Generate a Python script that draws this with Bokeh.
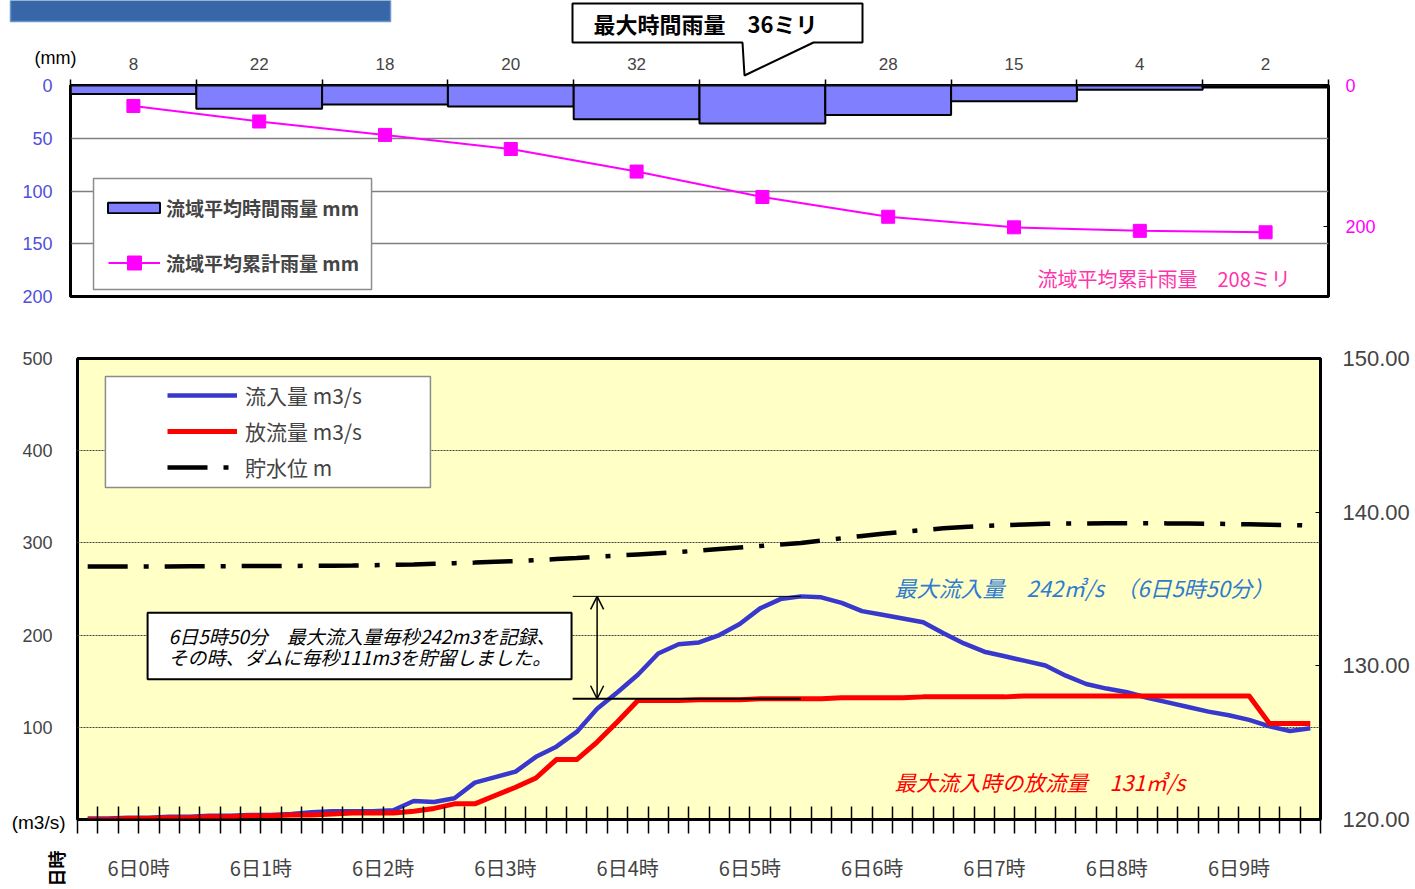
from math import pi
from bokeh.plotting import figure
from bokeh.models import (Range1d, LinearAxis, FixedTicker, Grid, Legend, LegendItem,
                          Label, ColumnDataSource, Arrow, OpenHead,
                          PolyAnnotation, BoxAnnotation, NumeralTickFormatter)
from bokeh.embed import file_html
from bokeh.resources import INLINE

JP = "Noto Sans CJK JP"
NUM = "Liberation Sans"

# ---------------- data ----------------
rain_hours = [0, 1, 2, 3, 4, 5, 6, 7, 8, 9]
rain_hourly = [8, 22, 18, 20, 32, 36, 28, 15, 4, 2]
rain_cumulative = [29, 51, 70, 90, 122, 158, 186, 201, 206, 208]

minutes = list(range(0, 601, 10))
inflow = [1, 1, 2, 2, 3, 3, 4, 4, 5, 5,
          6, 8, 9, 9, 9, 10, 20, 19, 23, 40,
          46, 52, 68, 79, 95, 120, 138, 157, 180, 190,
          192, 200, 212, 229, 239, 242, 241, 235, 226, 222,
          218, 214, 202, 191, 182, 177, 172, 167, 156, 147,
          142, 138, 132, 127, 122, 117, 113, 108, 101, 96,
          99]
outflow = [0, 0, 1, 1, 2, 2, 3, 3, 4, 4,
           5, 5, 6, 7, 7, 7, 9, 12, 17, 17,
           26, 35, 45, 65, 65, 84, 106, 129, 129, 129,
           130, 130, 130, 131, 131, 131, 131, 132, 132, 132,
           132, 133, 133, 133, 133, 133, 134, 134, 134, 134,
           134, 134, 134, 134, 134, 134, 134, 134, 104, 104,
           104]
level = [136.46, 136.46, 136.46, 136.47, 136.47, 136.48, 136.48, 136.49, 136.49, 136.50,
         136.50, 136.51, 136.52, 136.53, 136.55, 136.57, 136.60, 136.64, 136.68, 136.72,
         136.77, 136.82, 136.88, 136.95, 137.02, 137.10, 137.17, 137.25, 137.33, 137.41,
         137.50, 137.60, 137.70, 137.80, 137.90, 138.00, 138.15, 138.30, 138.45, 138.60,
         138.72, 138.84, 138.95, 139.03, 139.10, 139.15, 139.20, 139.24, 139.26, 139.27,
         139.28, 139.28, 139.28, 139.27, 139.26, 139.25, 139.23, 139.21, 139.18, 139.16,
         139.14]
hour_labels = ["6日0時", "6日1時", "6日2時", "6日3時", "6日4時",
               "6日5時", "6日6時", "6日7時", "6日8時", "6日9時"]

W = 1413
TOP_H = 312
BOT_H = 576


def place(top_px):
    return {"position": "absolute", "left": "0px", "top": "%dpx" % top_px}


# ---------------- top chart (rainfall) ----------------
top = figure(width=W, height=TOP_H, x_range=Range1d(0, 10), y_range=Range1d(200, 0),
             x_axis_type=None, y_axis_type=None, output_backend="svg",
             toolbar_location=None, min_border_left=70, min_border_right=85,
             min_border_top=85, min_border_bottom=TOP_H - 296,
             background_fill_color="white", border_fill_color="white",
             styles=place(0))
top.extra_y_ranges = {"cum": Range1d(299, 0)}
top.outline_line_color = "black"
top.outline_line_width = 3

top.add_layout(Grid(dimension=1, ticker=FixedTicker(ticks=[50, 100, 150]),
                    grid_line_color="#808080", grid_line_width=1.5))

ly = LinearAxis(ticker=FixedTicker(ticks=[0, 50, 100, 150, 200]),
                major_tick_in=0, major_tick_out=0, minor_tick_out=0,
                axis_line_color="black", axis_line_width=2,
                major_label_text_color="#5050D8", major_label_text_font=NUM,
                major_label_text_font_size="18px", major_label_standoff=18)
top.add_layout(ly, "left")
ry = LinearAxis(y_range_name="cum", ticker=FixedTicker(ticks=[0, 200]),
                major_tick_in=5, major_tick_out=0, minor_tick_out=0,
                axis_line_color=None, major_label_text_color="#FF00FF",
                major_label_text_font=NUM, major_label_text_font_size="18px",
                major_label_standoff=17)
top.add_layout(ry, "right")

mids = [h + 0.5 for h in rain_hours]
bounds = rain_hours + [rain_hours[-1] + 1]
max_rain = max(rain_hourly)
# the maximum hour is labelled by the callout instead of the axis
bar_labels = {m: ("" if v == max_rain else str(v)) for m, v in zip(mids, rain_hourly)}
ax_top = LinearAxis(ticker=FixedTicker(ticks=mids, minor_ticks=bounds),
                    major_label_overrides=bar_labels,
                    major_tick_out=0, major_tick_in=0,
                    minor_tick_out=6, minor_tick_in=0,
                    minor_tick_line_color="black", minor_tick_line_width=1.5,
                    axis_line_color=None, major_label_text_font=NUM,
                    major_label_text_font_size="17px", major_label_standoff=10)
top.add_layout(ax_top, "above")

rsrc = ColumnDataSource(dict(
    left=rain_hours, right=[h + 1 for h in rain_hours],
    mid=mids, val=rain_hourly, cum=rain_cumulative))

bars = top.quad(left="left", right="right", top=0, bottom="val", source=rsrc,
                fill_color="#8080FF", line_color="black", line_width=2)
cl = top.line("mid", "cum", source=rsrc, y_range_name="cum",
              line_color="#FF00FF", line_width=2)
cs = top.scatter("mid", "cum", source=rsrc, y_range_name="cum", marker="square",
                 size=13, fill_color="#FF00FF", line_color="#FF00FF")

top.add_layout(BoxAnnotation(left=0.183, right=2.393, top=88.2, bottom=193.4,
                             fill_color="white", fill_alpha=1,
                             line_color="#8C8C8C", line_alpha=1, line_width=1.5))
leg_common = dict(padding=0, margin=0, label_height=25,
                  label_text_font=JP, label_text_font_size="19px",
                  label_text_font_style="bold", border_line_color=None,
                  background_fill_alpha=0)
leg1a = Legend(items=[LegendItem(label="流域平均時間雨量 mm", renderers=[bars])],
               location=(31, 75), glyph_width=65, glyph_height=13, label_standoff=0,
               **leg_common)
leg1b = Legend(items=[LegendItem(label="流域平均累計雨量 mm", renderers=[cl, cs])],
               location=(38, 16), glyph_width=52, glyph_height=35, label_standoff=6,
               **leg_common)
top.add_layout(leg1a, "center")
top.add_layout(leg1b, "center")

top.add_layout(Label(x=9.7, y=183, text="流域平均累計雨量　208ミリ", text_align="right",
                     text_baseline="middle", text_font=JP, text_font_size="20px",
                     text_color="#FF33AA"))

# ---------------- bottom chart (flows) ----------------
bot_top = 358 - TOP_H
bot = figure(width=W, height=BOT_H, x_range=Range1d(-5, 605), y_range=Range1d(0, 500),
             x_axis_type=None, y_axis_type=None, output_backend="svg",
             toolbar_location=None, min_border_left=77, min_border_right=93,
             min_border_top=bot_top, min_border_bottom=BOT_H - bot_top - 461,
             background_fill_color="#FFFFC6", border_fill_color="white",
             styles=place(TOP_H))
bot.extra_y_ranges = {"wl": Range1d(120, 150)}
bot.outline_line_color = "black"
bot.outline_line_width = 3

bot.add_layout(Grid(dimension=1, ticker=FixedTicker(ticks=[100, 200, 300, 400]),
                    grid_line_color="#404040", grid_line_width=1, grid_line_dash="2 1"))

xticks = [-5 + 10 * k for k in range(62)]
label_pos = {25 + 60 * h: lab for h, lab in enumerate(hour_labels)}
overrides = {t: label_pos.get(t, "") for t in xticks}
bx = LinearAxis(ticker=FixedTicker(ticks=xticks), major_label_overrides=overrides,
                major_tick_in=13, major_tick_out=14, minor_tick_out=0,
                major_tick_line_color="black", major_tick_line_width=1.5,
                axis_line_color="black", axis_line_width=2,
                major_label_text_font=JP, major_label_text_font_size="20px",
                major_label_standoff=19)
bot.add_layout(bx, "below")
bly = LinearAxis(ticker=FixedTicker(ticks=[0, 100, 200, 300, 400, 500]),
                 major_label_overrides={0: ""}, major_tick_in=0, major_tick_out=0,
                 minor_tick_out=0, axis_line_color=None,
                 major_label_text_font=NUM, major_label_text_font_size="18px",
                 major_label_standoff=25)
bot.add_layout(bly, "left")
bry = LinearAxis(y_range_name="wl", ticker=FixedTicker(ticks=[120, 130, 140, 150]),
                 formatter=NumeralTickFormatter(format="0.00"),
                 major_tick_in=5, major_tick_out=0, minor_tick_out=0,
                 axis_line_color=None, major_label_text_font=NUM,
                 major_label_text_font_size="22px", major_label_standoff=22)
bot.add_layout(bry, "right")

fsrc = ColumnDataSource(dict(t=minutes, inflow=inflow, outflow=outflow, level=level))
l_in = bot.line("t", "inflow", source=fsrc, line_color="#3838CC", line_width=4.5,
                line_join="round")
l_out = bot.line("t", "outflow", source=fsrc, line_color="#FF0000", line_width=5,
                 line_join="round")
l_wl = bot.line("t", "level", source=fsrc, y_range_name="wl", line_color="black",
                line_width=4.5, line_dash="40 16 5 16")

bot.add_layout(BoxAnnotation(left=8.7, right=168.2, top=480.5, bottom=360.1,
                             fill_color="white", fill_alpha=1,
                             line_color="#8C8C8C", line_alpha=1, line_width=1.5))
leg2 = Legend(items=[LegendItem(label="流入量 m3/s", renderers=[l_in]),
                     LegendItem(label="放流量 m3/s", renderers=[l_out]),
                     LegendItem(label="貯水位 m", renderers=[l_wl])],
              location=(90, 337), padding=0, spacing=6, margin=0,
              label_height=22, glyph_width=70, glyph_height=20, label_standoff=8,
              label_text_font=JP, label_text_font_size="21px",
              border_line_color=None, background_fill_alpha=0)
bot.add_layout(leg2, "center")

# peak annotation
ipk = inflow.index(max(inflow))
t_pk, q_in_pk, q_out_pk = minutes[ipk], inflow[ipk], outflow[ipk]
bot.segment(x0=238, y0=q_in_pk, x1=t_pk, y1=q_in_pk, line_color="black", line_width=1)
bot.segment(x0=238, y0=q_out_pk, x1=t_pk, y1=q_out_pk, line_color="black", line_width=2)
bot.add_layout(Arrow(x_start=250, y_start=q_out_pk, x_end=250, y_end=q_in_pk,
                     start=OpenHead(size=13, line_width=1.5),
                     end=OpenHead(size=13, line_width=1.5),
                     line_width=1.5, line_color="black"))

bot.add_layout(Label(x=29.4, y=188.2,
                     text="6日5時50分　最大流入量毎秒242m3を記録、\nその時、ダムに毎秒111m3を貯留しました。",
                     text_align="left", text_baseline="middle", text_font=JP,
                     text_font_size="19px", text_font_style="italic",
                     text_line_height=0.8, text_color="black",
                     background_fill_color="white", background_fill_alpha=1,
                     border_line_color="black", border_line_width=2,
                     padding=dict(left=21, right=16, top=9, bottom=9)))
bot.add_layout(Label(x=396, y=252.7, text="最大流入量　242㎥/s　（6日5時50分）",
                     text_align="left", text_baseline="middle", text_font=JP,
                     text_font_size="22px", text_font_style="italic",
                     text_color="#2E7BCF"))
bot.add_layout(Label(x=396, y=41.2, text="最大流入時の放流量　131㎥/s",
                     text_align="left", text_baseline="middle", text_font=JP,
                     text_font_size="21.5px", text_font_style="italic",
                     text_color="#FF0000"))

# ---------------- overlay for texts outside the plot frames ----------------
OV_H = TOP_H + BOT_H
ov = figure(width=W, height=OV_H, x_range=Range1d(0, W), y_range=Range1d(OV_H, 0),
            x_axis_type=None, y_axis_type=None, output_backend="svg",
            toolbar_location=None, min_border=0, min_border_left=0, min_border_right=0,
            min_border_top=0, min_border_bottom=0,
            background_fill_color=None, border_fill_color=None,
            outline_line_color=None, styles=place(0))
ov.add_layout(BoxAnnotation(left=10, right=390, top=-5, bottom=21,
                            fill_color="#3767A8", fill_alpha=1,
                            line_color="#6C95C8", line_alpha=1, line_width=1.5))
ov.add_layout(PolyAnnotation(xs=[572, 862, 862, 813, 744, 742, 572],
                             ys=[3, 3, 42, 42, 75, 42, 42],
                             fill_color="white", fill_alpha=1,
                             line_color="black", line_alpha=1, line_width=2))
ov.add_layout(Label(x=705, y=22, text="最大時間雨量　36ミリ", text_align="center",
                    text_baseline="middle", text_font=JP, text_font_size="22px",
                    text_font_style="bold", text_color="black"))
ov.add_layout(Label(x=55, y=57, text="(mm)", text_align="center",
                    text_baseline="middle", text_font=NUM, text_font_size="18px",
                    text_color="black"))
ov.add_layout(Label(x=65, y=822, text="(m3/s)", text_align="right",
                    text_baseline="middle", text_font=NUM, text_font_size="19px",
                    text_color="black"))
ov.add_layout(Label(x=55, y=868, angle=pi / 2, text="日時", text_align="center",
                    text_baseline="middle", text_font=JP, text_font_size="18px",
                    text_font_style="bold", text_color="black"))

open("out.html", "w").write(file_html([top, bot, ov], INLINE))
